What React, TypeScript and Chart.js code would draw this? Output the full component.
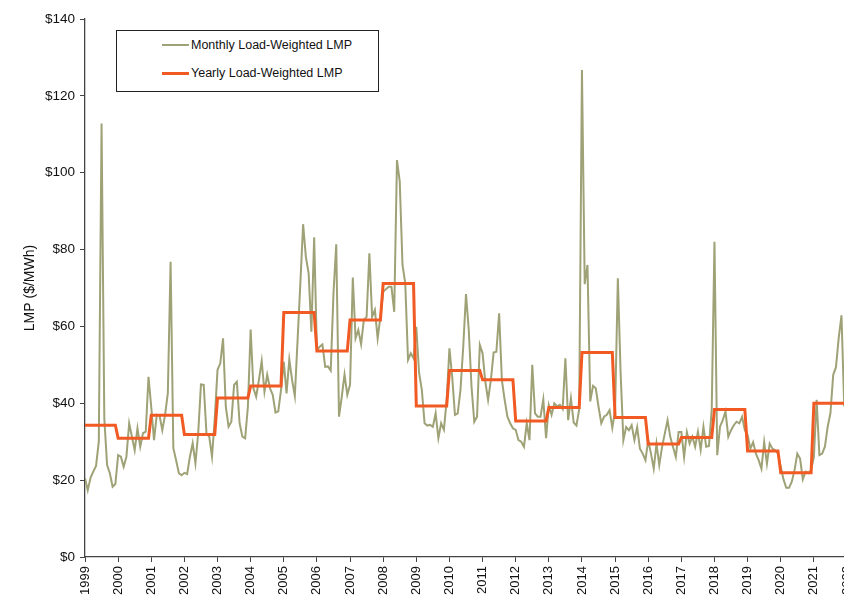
import React, { useEffect, useRef } from "react";
import { Chart, registerables } from "chart.js";

Chart.register(...registerables);

// ---- Data ----
const FIRST_YEAR = 1999;
const YEAR_TICKS = [
  1999, 2000, 2001, 2002, 2003, 2004, 2005, 2006, 2007, 2008, 2009, 2010,
  2011, 2012, 2013, 2014, 2015, 2016, 2017, 2018, 2019, 2020, 2021, 2022,
];
const Y_TICKS = [0, 20, 40, 60, 80, 100, 120, 140];

// Monthly load-weighted LMP ($/MWh), Jan..Dec
const M1999 = [20.5, 17.4, 20.6, 22.2, 23.7, 30.0, 112.8, 36.0, 23.9, 21.8, 18.3, 19.0];
const M2000 = [26.5, 26.1, 23.5, 26.1, 34.8, 31.3, 27.8, 33.5, 28.7, 32.2, 32.6, 46.9];
const M2001 = [39.0, 30.4, 37.0, 36.8, 33.0, 37.0, 42.6, 76.8, 28.3, 25.2, 21.8, 21.3];
const M2002 = [21.9, 21.6, 26.1, 29.6, 24.4, 32.2, 44.9, 44.8, 32.2, 31.3, 26.1, 36.0];
const M2003 = [48.7, 50.4, 56.9, 39.1, 33.9, 35.2, 44.8, 45.6, 34.8, 31.3, 30.9, 39.1];
const M2004 = [59.2, 43.9, 41.7, 46.1, 51.0, 43.0, 47.4, 43.9, 42.2, 37.6, 37.9, 43.5];
const M2005 = [50.8, 42.6, 51.4, 46.1, 41.9, 56.5, 71.2, 86.6, 78.1, 73.8, 58.6, 83.2];
const M2006 = [53.9, 54.7, 55.3, 49.5, 49.6, 48.5, 68.6, 81.4, 36.5, 41.7, 47.5, 42.2];
const M2007 = [44.8, 72.7, 56.9, 59.1, 55.4, 61.7, 62.5, 79.0, 62.5, 64.3, 56.9, 62.5];
const M2008 = [69.0, 69.7, 70.3, 70.3, 63.8, 103.3, 97.7, 76.0, 71.2, 51.3, 53.0, 51.7];
const M2009 = [59.9, 48.0, 43.5, 34.8, 34.2, 34.4, 33.9, 37.4, 30.9, 34.8, 33.1, 40.9];
const M2010 = [54.3, 46.9, 37.0, 37.4, 43.5, 54.7, 68.4, 59.1, 44.3, 35.2, 36.5, 55.2];
const M2011 = [53.0, 45.6, 40.9, 46.0, 53.2, 53.4, 63.4, 46.0, 40.9, 36.5, 34.8, 33.5];
const M2012 = [33.1, 30.4, 30.0, 28.7, 34.8, 30.4, 50.0, 37.4, 36.5, 36.5, 41.0, 30.9];
const M2013 = [39.5, 37.0, 40.0, 39.2, 39.6, 38.5, 51.7, 35.6, 41.3, 35.0, 34.2, 38.5];
const M2014 = [126.7, 71.0, 76.0, 40.5, 44.5, 43.9, 39.1, 34.8, 36.5, 37.0, 38.2, 33.6];
const M2015 = [38.2, 72.5, 48.0, 30.4, 33.8, 33.0, 34.3, 30.4, 33.8, 28.2, 26.9, 25.2];
const M2016 = [30.4, 26.9, 23.0, 29.5, 23.9, 28.6, 32.1, 35.6, 31.2, 28.6, 26.0, 32.5];
const M2017 = [32.5, 26.0, 32.5, 29.5, 31.3, 28.7, 32.6, 27.9, 33.9, 28.7, 28.9, 38.3];
const M2018 = [82.0, 26.5, 33.9, 35.6, 37.9, 31.3, 33.0, 34.3, 35.2, 34.8, 36.5, 33.0];
const M2019 = [31.7, 28.2, 29.9, 26.9, 25.2, 23.0, 29.9, 24.3, 29.5, 28.2, 27.8, 26.9];
const M2020 = [23.5, 20.2, 18.0, 18.0, 19.6, 22.6, 26.9, 25.6, 20.2, 22.2, 21.8, 22.6];
const M2021 = [26.0, 40.9, 26.5, 26.9, 28.7, 33.9, 37.4, 47.4, 49.4, 57.0, 62.9, 39.2];

const MONTHLY_BY_YEAR = [
  M1999, M2000, M2001, M2002, M2003, M2004, M2005, M2006, M2007, M2008,
  M2009, M2010, M2011, M2012, M2013, M2014, M2015, M2016, M2017, M2018,
  M2019, M2020, M2021,
];

// Yearly load-weighted LMP ($/MWh), 1999..2021
const YEARLY = [
  34.3, 30.9, 36.9, 31.9, 41.4, 44.5, 63.6, 53.6, 61.7, 71.2, 39.3, 48.5,
  46.1, 35.4, 38.9, 53.2, 36.3, 29.4, 31.1, 38.4, 27.6, 21.9, 40.0,
];

const OLIVE = "#9FA276";
const ORANGE = "#F25A24";
const FONT = "'Liberation Sans', Arial, sans-serif";

function buildMonthly() {
  const pts: { x: number; y: number }[] = [];
  MONTHLY_BY_YEAR.forEach((vals, i) => {
    vals.forEach((v, j) => pts.push({ x: FIRST_YEAR + i + j / 12, y: v }));
  });
  return pts;
}

function buildYearly() {
  const pts: { x: number; y: number }[] = [];
  MONTHLY_BY_YEAR.forEach((vals, i) => {
    vals.forEach((_v, j) => pts.push({ x: FIRST_YEAR + i + j / 12, y: YEARLY[i] }));
  });
  return pts;
}

export default function App() {
  const ref = useRef<HTMLCanvasElement | null>(null);

  useEffect(() => {
    if (!ref.current) return;
    Chart.defaults.font.family = FONT;
    const chart = new Chart(ref.current, {
      type: "line",
      data: {
        datasets: [
          {
            label: "Yearly Load-Weighted LMP",
            data: buildYearly(),
            borderColor: ORANGE,
            borderWidth: 3,
            pointRadius: 0,
            tension: 0,
            order: 0,
          },
          {
            label: "Monthly Load-Weighted LMP",
            data: buildMonthly(),
            borderColor: OLIVE,
            borderWidth: 2,
            pointRadius: 0,
            tension: 0,
            order: 1,
          },
        ],
      },
      options: {
        animation: false,
        responsive: false,
        devicePixelRatio: 1,
        parsing: false,
        layout: { padding: { top: 19, right: 23, left: 0, bottom: 0 } },
        plugins: {
          legend: { display: false },
          tooltip: { enabled: false },
        },
        scales: {
          x: {
            type: "linear",
            min: YEAR_TICKS[0],
            max: YEAR_TICKS[YEAR_TICKS.length - 1],
            afterFit: (s: any) => {
              s.height = 43;
            },
            afterBuildTicks: (s: any) => {
              s.ticks = YEAR_TICKS.map((v) => ({ value: v }));
            },
            ticks: {
              autoSkip: false,
              minRotation: 90,
              maxRotation: 90,
              padding: 4,
              color: "#111",
              font: { size: 13, family: FONT },
              callback: (v: any) => String(v),
            },
            grid: {
              display: true,
              drawOnChartArea: false,
              drawTicks: true,
              tickLength: 5,
              color: "#444",
              lineWidth: 1,
            },
            border: { display: true, color: "#444", width: 1.3 },
          },
          y: {
            type: "linear",
            min: Y_TICKS[0],
            max: Y_TICKS[Y_TICKS.length - 1],
            afterFit: (s: any) => {
              s.width = 85;
            },
            afterBuildTicks: (s: any) => {
              s.ticks = Y_TICKS.map((v) => ({ value: v }));
            },
            ticks: {
              padding: 5,
              color: "#111",
              font: { size: 13.5, family: FONT },
              callback: (v: any) => "$" + v,
            },
            grid: {
              display: true,
              drawOnChartArea: false,
              drawTicks: true,
              tickLength: 5,
              color: "#444",
              lineWidth: 1,
            },
            border: { display: true, color: "#444", width: 1.3 },
            title: {
              display: true,
              text: "LMP ($/MWh)",
              color: "#111",
              font: { size: 14, family: FONT },
              padding: { top: 22, bottom: 0 },
            },
          },
        },
      },
    });
    return () => chart.destroy();
  }, []);

  return (
    <div
      style={{
        position: "absolute",
        left: 0,
        top: 0,
        width: 844,
        height: 600,
        overflow: "hidden",
        background: "#fff",
      }}
    >
      <canvas
        ref={ref}
        width={870}
        height={600}
        style={{ display: "block", width: 870, height: 600 }}
      />
      <div
        style={{
          position: "absolute",
          left: 116,
          top: 30,
          width: 261,
          height: 60,
          border: "1px solid #222",
          background: "#fff",
          fontFamily: FONT,
          fontSize: 12.5,
          color: "#111",
        }}
      >
        {[
          { label: "Monthly Load-Weighted LMP", color: OLIVE, w: 2, top: 14 },
          { label: "Yearly Load-Weighted LMP", color: ORANGE, w: 3, top: 42 },
        ].map((it) => (
          <div
            key={it.label}
            style={{
              position: "absolute",
              left: 45,
              top: it.top - 8,
              height: 16,
              display: "flex",
              alignItems: "center",
              whiteSpace: "nowrap",
            }}
          >
            <span
              style={{
                display: "inline-block",
                width: 27,
                height: it.w,
                background: it.color,
                marginRight: 2,
              }}
            />
            <span>{it.label}</span>
          </div>
        ))}
      </div>
    </div>
  );
}
